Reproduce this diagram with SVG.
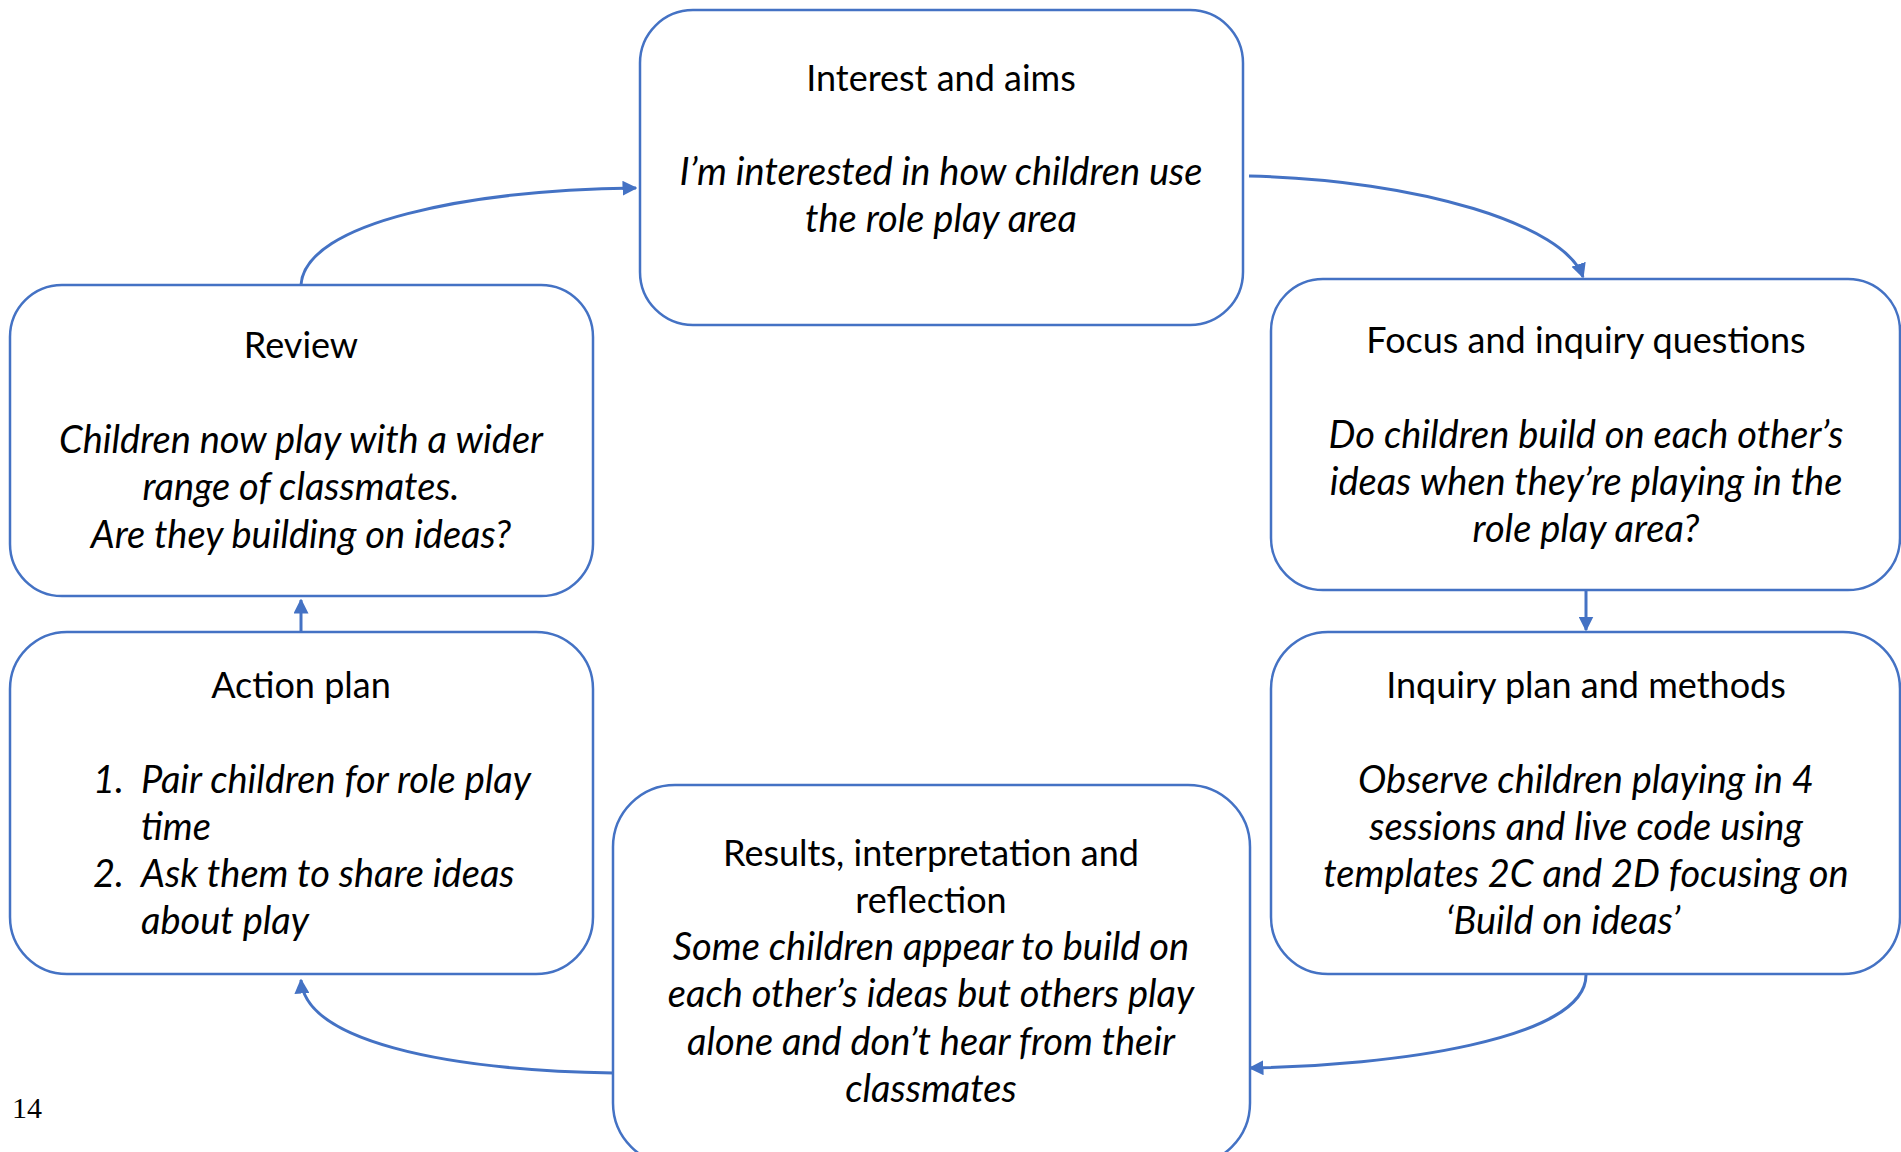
<svg xmlns="http://www.w3.org/2000/svg" width="1901" height="1152" viewBox="0 0 1901 1152">
<style>
.box{fill:#ffffff;stroke:#4472C4;stroke-width:2.5}
.t{font-family:Lato,"Open Sans","Liberation Sans",sans-serif;font-size:36px;fill:#000;text-anchor:middle}
.i{font-style:italic;font-size:38px}
.s{text-anchor:start}
.con{fill:none;stroke:#4472C4;stroke-width:3}
.pg{font-family:"Liberation Serif",serif;font-size:30px;fill:#000}
</style>
<defs>
<marker id="ah" viewBox="0 0 10 10" refX="9" refY="5" markerWidth="15" markerHeight="15" markerUnits="userSpaceOnUse" orient="auto">
<path d="M0,0 L10,5 L0,10 z" fill="#4472C4"/>
</marker>
</defs>
<rect width="1901" height="1152" fill="#ffffff"/>
<g id="connectors">
<path class="con" d="M1249,176 C1420,180 1565,225 1583,277" marker-end="url(#ah)"/>
<path class="con" d="M1586,590 L1586,630" marker-end="url(#ah)"/>
<path class="con" d="M1586,975 C1586,1040 1390,1066 1250,1068" marker-end="url(#ah)"/>
<path class="con" d="M613,1073 C440,1070 305,1040 301,980" marker-end="url(#ah)"/>
<path class="con" d="M301,632 L301,600" marker-end="url(#ah)"/>
<path class="con" d="M301,285 C305,222 470,190 636,188" marker-end="url(#ah)"/>
</g>
<g id="interest">
<rect class="box" x="640" y="10" width="603" height="315" rx="53"/>
<text class="t" x="941" y="91">Interest and aims</text>
<text class="t i" x="941" y="185">I’m interested in how children use</text>
<text class="t i" x="941" y="232">the role play area</text>
</g>
<g id="focus">
<rect class="box" x="1271" y="279" width="629" height="311" rx="52"/>
<text class="t" x="1586" y="353">Focus and inquiry questions</text>
<text class="t i" x="1586" y="448">Do children build on each other’s</text>
<text class="t i" x="1586" y="495">ideas when they’re playing in the</text>
<text class="t i" x="1586" y="542">role play area?</text>
</g>
<g id="inquiry">
<rect class="box" x="1271" y="632" width="629" height="342" rx="57"/>
<text class="t" x="1586" y="698">Inquiry plan and methods</text>
<text class="t i" x="1586" y="793">Observe children playing in 4</text>
<text class="t i" x="1586" y="840">sessions and live code using</text>
<text class="t i" x="1586" y="887">templates 2C and 2D focusing on</text>
<text class="t i" x="1563" y="934">‘Build on ideas’</text>
</g>
<g id="results">
<rect class="box" x="613" y="785" width="637" height="380" rx="62"/>
<text class="t" x="931" y="866">Results, interpretation and</text>
<text class="t" x="931" y="913">reflection</text>
<text class="t i" x="931" y="960">Some children appear to build on</text>
<text class="t i" x="931" y="1007">each other’s ideas but others play</text>
<text class="t i" x="931" y="1055">alone and don’t hear from their</text>
<text class="t i" x="931" y="1102">classmates</text>
</g>
<g id="action">
<rect class="box" x="10" y="632" width="583" height="342" rx="57"/>
<text class="t" x="301" y="698">Action plan</text>
<text class="t i s" x="93" y="793">1.</text>
<text class="t i s" x="141" y="793">Pair children for role play</text>
<text class="t i s" x="141" y="840">time</text>
<text class="t i s" x="93" y="887">2.</text>
<text class="t i s" x="141" y="887">Ask them to share ideas</text>
<text class="t i s" x="141" y="934">about play</text>
</g>
<g id="review">
<rect class="box" x="10" y="285" width="583" height="311" rx="52"/>
<text class="t" x="301" y="358">Review</text>
<text class="t i" x="301" y="453">Children now play with a wider</text>
<text class="t i" x="301" y="500">range of classmates.</text>
<text class="t i" x="301" y="548">Are they building on ideas?</text>
</g>
<text class="pg" x="12" y="1118">14</text>
</svg>
